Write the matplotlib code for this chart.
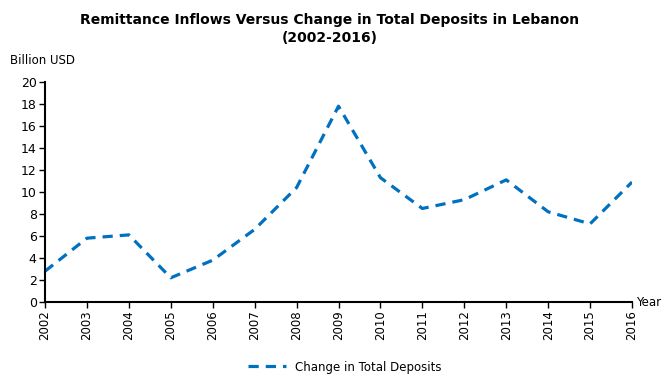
import matplotlib
matplotlib.use("Agg")
import matplotlib.pyplot as plt

years = list(range(2002, 2017))
deposits = [2.8, 5.8, 6.1, 2.2, 3.8, 6.6, 10.4, 17.8, 11.3, 8.5, 9.3, 11.1, 8.2, 7.1, 10.9]

plt.rcParams['font.family'] = ['DejaVu Sans']

fig = plt.figure(figsize=(6.64, 3.75), dpi=100)
ax = fig.add_axes([0.0678, 0.1947, 0.884, 0.5867])

ax.plot(years, deposits, color='#0070C0', lw=2.3, dashes=(3.2, 2.2),
        dash_capstyle='butt', dash_joinstyle='round', label='Change in Total Deposits')

ax.set_xlim(2002, 2016)
ax.set_ylim(0, 20)
ax.set_xticks(years)
ax.set_xticklabels([str(y) for y in years], rotation=90, fontsize=8.5)
ax.set_yticks(range(0, 21, 2))
ax.tick_params(axis='y', labelsize=9, length=4, width=1, pad=2)
ax.tick_params(axis='x', length=4, width=1, pad=2)
for s in ('top', 'right'):
    ax.spines[s].set_visible(False)
for s in ('left', 'bottom'):
    ax.spines[s].set_linewidth(1.5)

fig.text(0.497, 1 - 29 / 375, 'Remittance Inflows Versus Change in Total Deposits in Lebanon\n(2002-2016)',
         ha='center', va='center', fontsize=10, fontweight='bold', linespacing=1.3)
fig.text(10 / 664, 1 - 60 / 375, 'Billion USD', ha='left', va='center', fontsize=8.5)
fig.text(636 / 664, 1 - 302 / 375, 'Year', ha='left', va='center', fontsize=8.5)

fig.legend(loc='center', bbox_to_anchor=(345 / 664, 1 - 367 / 375), frameon=False,
           fontsize=8.5, handlelength=3.2)

fig.savefig('out.png', dpi=100)
